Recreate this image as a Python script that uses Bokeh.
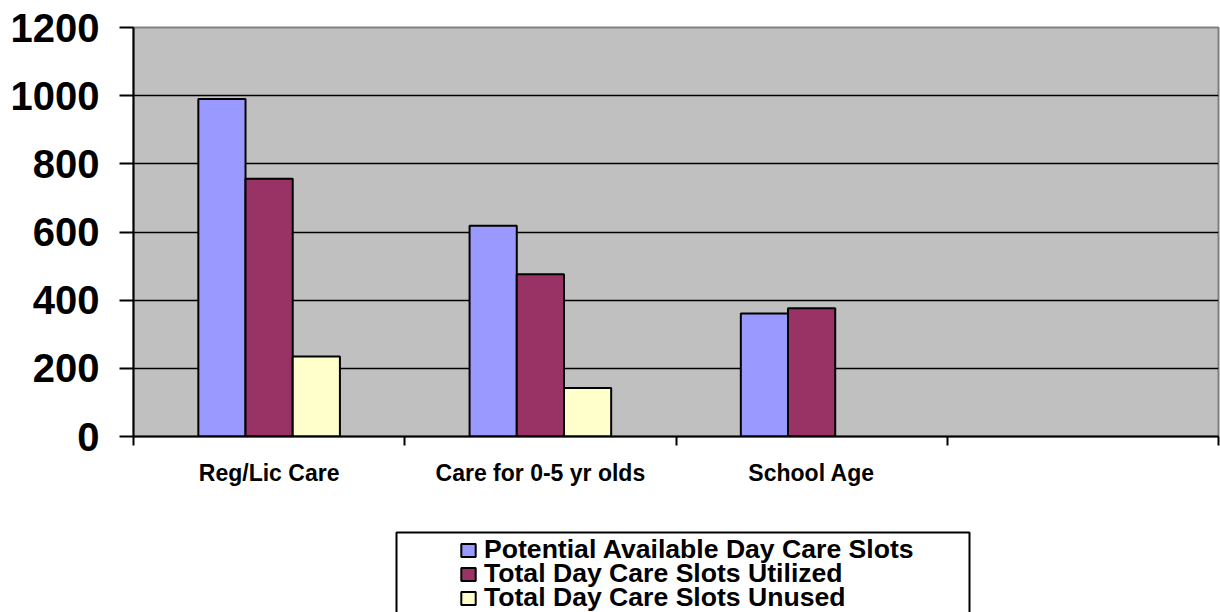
import numpy as np
from bokeh.plotting import figure
from bokeh.layouts import column
from bokeh.models import FixedTicker, Legend, LegendItem, ColumnDataSource, BoxAnnotation
from bokeh.transform import dodge
from bokeh.embed import file_html
from bokeh.resources import INLINE

categories = ["Reg/Lic Care", "Care for 0-5 yr olds", "School Age", ""]
series_names = ["Potential Available Day Care Slots",
                "Total Day Care Slots Utilized",
                "Total Day Care Slots Unused"]
potential = [990, 618, 361]
utilized = [756, 476, 376]
unused = [235, 142, float("nan")]
colors = ["#9999FF", "#993366", "#FFFFCC"]
y_ticks = [0, 200, 400, 600, 800, 1000, 1200]

n = len(categories)
centers = list(np.arange(n) + 0.5)
bounds = list(np.arange(n + 1).astype(float))
ncat = len(potential)

src = ColumnDataSource(dict(
    x=centers[:ncat],
    potential=potential,
    utilized=utilized,
    unused=unused,
))
cols = ["potential", "utilized", "unused"]

FONT = "Liberation Sans"

p = figure(frame_width=1085, frame_height=409, output_backend="svg", toolbar_location=None,
           x_range=(0, n), y_range=(0, 1200),
           min_border_left=133, min_border_right=2, min_border_top=27,
           min_border_bottom=60)
p.border_fill_color = "white"
p.background_fill_color = "#C0C0C0"
p.outline_line_color = "#808080"
p.outline_line_width = 2

bw = 0.174
for i, (col, c) in enumerate(zip(cols, colors)):
    p.vbar(x=dodge("x", (i - 1) * bw, range=p.x_range), top=col, width=bw,
           bottom=0, source=src, fill_color=c, line_color="black", line_width=2)

# Y axis
ya = p.yaxis[0]
ya.ticker = FixedTicker(ticks=y_ticks)
ya.major_label_text_font = FONT
ya.major_label_text_font_style = "bold"
ya.major_label_text_font_size = "40px"
ya.major_label_text_color = "black"
ya.major_tick_out = 14
ya.major_tick_in = 0
ya.minor_tick_line_color = None
ya.major_tick_line_width = 2
ya.major_tick_line_color = "black"
ya.axis_line_color = "black"
ya.axis_line_width = 2
ya.major_label_standoff = 20

# X axis
xa = p.xaxis[0]
xa.ticker = FixedTicker(ticks=centers, minor_ticks=bounds)
xa.major_label_overrides = {float(c): lab for c, lab in zip(centers, categories)}
xa.major_tick_line_color = None
xa.major_tick_out = 0
xa.major_tick_in = 0
xa.minor_tick_out = 9
xa.minor_tick_in = 0
xa.minor_tick_line_color = "black"
xa.minor_tick_line_width = 2
xa.axis_line_color = "black"
xa.axis_line_width = 2
xa.major_label_text_font = FONT
xa.major_label_text_font_style = "bold"
xa.major_label_text_font_size = "23px"
xa.major_label_text_color = "black"
xa.major_label_standoff = 14

p.xgrid.grid_line_color = None
p.ygrid.ticker = FixedTicker(ticks=y_ticks)
p.ygrid.grid_line_color = "black"
p.ygrid.grid_line_width = 1.5

# ---- Legend area (separate figure under the chart, 1 unit = 1 px) ----
p2 = figure(frame_width=1085, frame_height=116, output_backend="svg", toolbar_location=None,
            x_axis_type=None, y_axis_type=None, x_range=(0, 1085), y_range=(0, 116),
            min_border_left=133, min_border_right=2, min_border_top=0, min_border_bottom=0)
p2.outline_line_color = None
p2.background_fill_color = "white"
p2.border_fill_color = "white"
p2.xgrid.grid_line_color = None
p2.ygrid.grid_line_color = None

# legend proxies: same series & styles, hidden from the plot area
proxies = []
for i, (col, c) in enumerate(zip(cols, colors)):
    r = p2.vbar(x="x", top=col, width=bw, bottom=0, source=src,
                fill_color=c, line_color="black", line_width=2)
    r.visible = False
    proxies.append(r)

frame_box = BoxAnnotation(left=263, right=836, bottom=-10, top=80,
                          fill_color="white", fill_alpha=1,
                          line_color="black", line_width=2, line_alpha=1)
p2.add_layout(frame_box)

row_y = [47, 23, -1]
for nm, r, yy in zip(series_names, proxies, row_y):
    lg = Legend(items=[LegendItem(label=nm, renderers=[r])], location=(326, yy))
    lg.label_text_font = FONT
    lg.label_text_font_style = "bold"
    lg.label_text_font_size = "26.6px"
    lg.label_text_color = "black"
    lg.glyph_width = 18
    lg.glyph_height = 16
    lg.label_height = 16
    lg.label_standoff = 7
    lg.spacing = 0
    lg.padding = 0
    lg.margin = 0
    lg.border_line_color = None
    lg.background_fill_alpha = 0
    lg.inactive_fill_alpha = 0
    p2.add_layout(lg, "center")

layout = column(p, p2, spacing=0)
open("out.html", "w").write(file_html(layout, INLINE))
